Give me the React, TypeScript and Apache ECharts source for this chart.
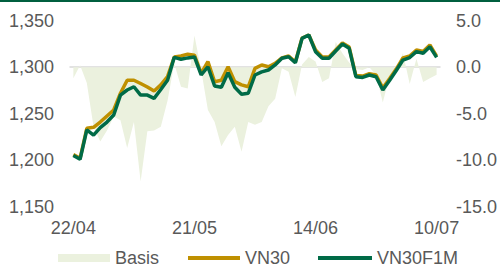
import React, { useEffect, useRef } from "react";
import * as echarts from "echarts";

const tickLabels = ["22/04", "21/05", "14/06", "10/07"];

const vn30 = [
  1206, 1202, 1234.3, 1235.4, 1241, 1247.5, 1254, 1272, 1286, 1286,
  1282.5, 1278.7, 1274.4, 1281, 1290, 1311, 1312, 1314, 1313, 1293.4,
  1306, 1284.4, 1286, 1300.5, 1284.4, 1281, 1279, 1298.8, 1302.4, 1300.5,
  1304.2, 1310, 1312, 1305.5, 1331.4, 1334.6, 1318.5, 1311, 1311, 1318.5,
  1326, 1321.6, 1291, 1290.5, 1293, 1291.6, 1277.6, 1287.5, 1298, 1310,
  1312, 1318.5, 1316.8, 1323.9, 1312,
];

const vn30f1m = [
  1205, 1201, 1232.5, 1227, 1235, 1241, 1248.6, 1270, 1275.5, 1279,
  1270, 1270, 1266.5, 1276, 1286, 1310.6, 1308.5, 1310, 1311, 1291.6,
  1300.5, 1279.8, 1278.4, 1294, 1278.4, 1271, 1272, 1291.6, 1295, 1297,
  1302.4, 1309.6, 1311.3, 1304.8, 1331, 1334.6, 1316.7, 1309.6, 1309.6, 1317.4,
  1325, 1320.3, 1289.8, 1289, 1291.6, 1289.8, 1275.5, 1285.6, 1296.5, 1307.7,
  1310.4, 1316.7, 1315, 1322, 1310.6,
];

const basis = [
  -1.2, 0.2, -1.7, -6.4, -8.0, -6.8, -5.3, -5.7, -8.7, -5.9,
  -12.3, -6.9, -6.8, -6.4, -3.6, 0.4, -2.1, -2.3, 3.4, -0.3,
  -4.6, -5.9, -8.5, -7.3, -6.4, -9.1, -5.9, -6.2, -5.9, -4.2,
  -3.4, -0.1, -0.5, -3.2, 0.3, 1.1, 0.6, -1.6, -1.2, 2.7,
  1.5, 0.5, -0.2, -0.3, 0.0, -0.8, -3.8, -1.0, -0.1, 1.5,
  -1.8, 0.9, -1.6, -1.2, -0.8,
];

const GOLD = "#bf9000";
const GREEN = "#006b47";
const BASIS = "#ebf1de";
const TEXT = "#595959";
const FONT = "Liberation Sans, Arial, sans-serif";
const FS = 18;

export default function App() {
  const ref = useRef<HTMLDivElement>(null);
  useEffect(() => {
    if (!ref.current) return;
    const chart = echarts.init(ref.current, undefined, { renderer: "svg" });
    const cats = vn30.map((_, i) => String(i));
    const legendCommon = {
      top: 248,
      padding: 0,
      itemHeight: 4,
      itemWidth: 52,
      icon: "rect",
      selectedMode: false,
      textStyle: { color: TEXT, fontSize: FS, fontFamily: FONT, lineHeight: 20 },
    };
    chart.setOption({
      animation: false,
      backgroundColor: "#ffffff",
      graphic: [
        {
          type: "rect",
          shape: { x: 0, y: 0, width: 500, height: 2 },
          style: { fill: "#005f3f" },
        },
      ],
      grid: { left: 70, right: 60, top: 20.7, bottom: 60.3, containLabel: false },
      legend: [
        { ...legendCommon, left: 58, itemHeight: 8, data: ["Basis"] },
        { ...legendCommon, left: 188, data: ["VN30"] },
        { ...legendCommon, left: 318, itemWidth: 54, data: ["VN30F1M"] },
      ],
      xAxis: {
        type: "category",
        data: cats,
        boundaryGap: true,
        axisTick: { show: false },
        axisLine: { show: true, lineStyle: { color: "#d9d9d9", width: 1.5 } },
        axisLabel: {
          interval: 17,
          margin: 12,
          color: TEXT,
          fontSize: FS,
          fontFamily: FONT,
          formatter: (_v: string, idx: number) => tickLabels[Math.round(idx / 18)] ?? "",
        },
        splitLine: { show: false },
      },
      yAxis: [
        {
          type: "value",
          min: 1150,
          max: 1350,
          interval: 50,
          axisLine: { show: false },
          axisTick: { show: false },
          splitLine: { show: false },
          axisLabel: {
            margin: 16,
            color: TEXT,
            fontSize: FS,
            fontFamily: FONT,
            formatter: (v: number) => v.toLocaleString("en-US"),
          },
        },
        {
          type: "value",
          min: -15,
          max: 5,
          interval: 5,
          position: "right",
          axisLine: { show: false },
          axisTick: { show: false },
          splitLine: { show: false },
          axisLabel: {
            margin: 16,
            color: TEXT,
            fontSize: FS,
            fontFamily: FONT,
            formatter: (v: number) => v.toFixed(1),
          },
        },
      ],
      series: [
        {
          name: "Basis",
          type: "line",
          yAxisIndex: 1,
          data: basis,
          showSymbol: false,
          symbol: "none",
          color: BASIS,
          itemStyle: { color: BASIS },
          lineStyle: { width: 0, color: BASIS },
          areaStyle: { color: BASIS, opacity: 1 },
          z: 1,
        },
        {
          name: "VN30",
          type: "line",
          yAxisIndex: 0,
          data: vn30,
          showSymbol: false,
          symbol: "none",
          color: GOLD,
          itemStyle: { color: GOLD },
          lineStyle: { width: 3.5, color: GOLD },
          z: 2,
        },
        {
          name: "VN30F1M",
          type: "line",
          yAxisIndex: 0,
          data: vn30f1m,
          showSymbol: false,
          symbol: "none",
          color: GREEN,
          itemStyle: { color: GREEN },
          lineStyle: { width: 3.5, color: GREEN },
          z: 3,
        },
      ],
    });
    return () => chart.dispose();
  }, []);
  return (
    <div
      ref={ref}
      style={{ position: "fixed", left: 0, top: 0, width: 500, height: 267 }}
    />
  );
}
